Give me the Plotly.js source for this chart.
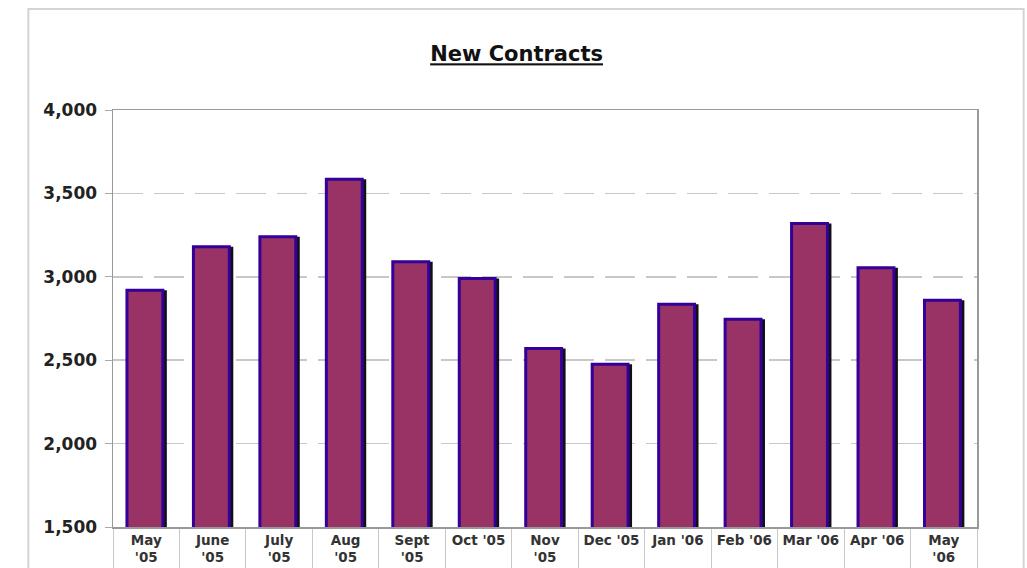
<!DOCTYPE html>
<html>
<head>
<meta charset="utf-8">
<script src="https://cdn.plot.ly/plotly-3.0.1.min.js"></script>
<style>html,body{margin:0;padding:0;background:#fff;}#chart{width:1027px;height:568px;}</style>
</head>
<body>
<div id="chart"></div>
<script>
const categories = ["May<br>'05","June<br>'05","July<br>'05","Aug<br>'05","Sept<br>'05","Oct '05","Nov<br>'05","Dec '05","Jan '06","Feb '06","Mar '06","Apr '06","May<br>'06"];
const contracts = [2920, 3180, 3240, 3585, 3090, 2990, 2570, 2475, 2835, 2745, 3320, 3055, 2860];
const yTicks = [1500, 2000, 2500, 3000, 3500, 4000];
const yTickLabels = ["1,500", "2,000", "2,500", "3,000", "3,500", "4,000"];

const FONT = 'DejaVu Sans, Arial, sans-serif';

const shadow = {
  type: 'bar', x: categories, y: contracts,
  marker: {color: '#111111', line: {width: 0}},
  width: 0.56, offset: -0.25, hoverinfo: 'skip', showlegend: false
};
const bars = {
  type: 'bar', x: categories, y: contracts,
  marker: {color: '#993366', line: {color: '#330099', width: 3}},
  width: 0.54, offset: -0.29, showlegend: false
};

const layout = {
  width: 1027, height: 568,
  margin: {l: 113, r: 50, t: 110, b: 41},
  paper_bgcolor: '#ffffff', plot_bgcolor: '#ffffff',
  barmode: 'overlay',
  title: {
    text: '<b><u>New Contracts</u></b>',
    font: {family: FONT, size: 21, color: '#111111'},
    x: 0.503, xanchor: 'center', y: 0.905, yanchor: 'middle'
  },
  xaxis: {
    type: 'category', tickson: 'boundaries', ticks: 'outside', ticklen: 45,
    tickcolor: '#c8c8c8', tickwidth: 1,
    showline: true, linecolor: '#999999', linewidth: 1.5, mirror: true,
    tickfont: {family: FONT, size: 13.5, color: '#333333', weight: 'bold'},
    showgrid: false, fixedrange: true
  },
  yaxis: {
    range: [1500, 4000], tickvals: yTicks, ticktext: yTickLabels,
    ticks: 'outside', ticklen: 7, tickcolor: '#aaaaaa', ticklabelstandoff: 4,
    showline: true, linecolor: '#999999', linewidth: 1.5, mirror: true,
    showgrid: true, gridcolor: '#c8c8c8', gridwidth: 1.5, griddash: '30px,11px',
    tickfont: {family: FONT, size: 17, color: '#222222', weight: 'bold'},
    zeroline: false, fixedrange: true
  },
  shapes: [
    {type: 'rect', xref: 'paper', yref: 'paper', x0: -0.098, x1: 1.054, y0: -0.2, y1: 1.242,
     line: {color: '#d4d4d4', width: 2}, fillcolor: 'rgba(0,0,0,0)', layer: 'below'}
  ]
};

Plotly.newPlot('chart', [shadow, bars], layout, {displayModeBar: false, staticPlot: true});
</script>
</body>
</html>
